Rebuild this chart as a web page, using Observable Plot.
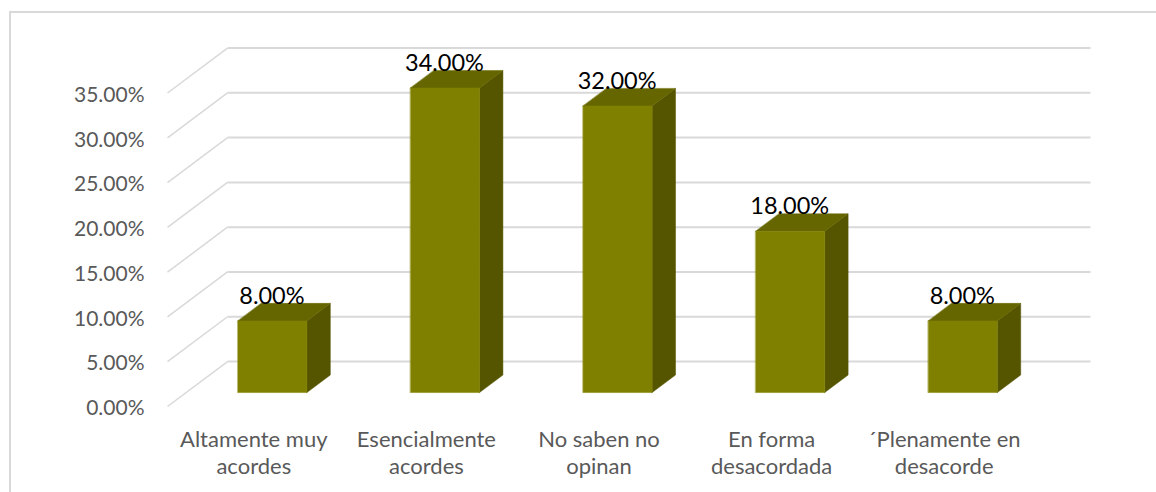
<!DOCTYPE html>
<html lang="es">
<head>
<meta charset="utf-8">
<script src="https://cdn.jsdelivr.net/npm/d3@7"></script>
<script src="https://cdn.jsdelivr.net/npm/@observablehq/plot@0.6"></script>
<style>
html,body{margin:0;padding:0;background:#fff;overflow:hidden}
svg{display:block}
</style>
</head>
<body>
<div id="chart"></div>
<script>
const categories = ["Altamente muy\nacordes", "Esencialmente\nacordes", "No saben no\nopinan", "En forma\ndesacordada", "´Plenamente en\ndesacorde"];
const values = [8, 34, 32, 18, 8];
const valueLabels = ["8.00%", "34.00%", "32.00%", "18.00%", "8.00%"];
const yTicks = [0, 5, 10, 15, 20, 25, 30, 35];
const yTickLabels = ["0.00%", "5.00%", "10.00%", "15.00%", "20.00%", "25.00%", "30.00%", "35.00%"];

const FONT = "Lato, sans-serif";
// oblique projection: depth 0..1 shifts a point along the chart's floor
const depthX = 0.3476, depthY = 5.02;
const front = 0.31, back = 0.70, halfW = 0.2;
const px = (i, d) => i + d * depthX;
const py = (v, d) => v + d * depthY;

const polys = [];
values.forEach((v, i) => {
  const L = i - halfW, R = i + halfW;
  const face = (kind, pts) => polys.push(...pts.map(([x, y, d]) => ({id: i + kind, kind, x: px(x, d), y: py(y, d)})));
  face("side", [[R, 0, front], [R, 0, back], [R, v, back], [R, v, front]]);
  face("top", [[L, v, front], [R, v, front], [R, v, back], [L, v, back]]);
  face("front", [[L, 0, front], [R, 0, front], [R, v, front], [L, v, front]]);
});
const faceColor = {front: "#808000", side: "#555500", top: "#666600"};
const faces = kind => polys.filter(p => p.kind === kind);
const xi = categories.map((_, i) => i);

const chart = Plot.plot({
  width: 1156, height: 492,
  marginLeft: 9.5, marginTop: 11.5, marginRight: 0, marginBottom: 0,
  style: {fontFamily: FONT, background: "#fff"},
  x: {type: "linear", domain: [-0.5, 4.5], range: [167, 1030], axis: null},
  y: {type: "linear", domain: [0, 35], range: [406, 92.5], axis: null},
  marks: [
    Plot.frame({anchor: "left", stroke: "#d9d9d9", strokeWidth: 2, strokeOpacity: 1}),
    Plot.frame({anchor: "top", stroke: "#d9d9d9", strokeWidth: 2, strokeOpacity: 1}),
    Plot.link(yTicks, {x1: () => -0.5, y1: d => d, x2: () => px(-0.5, 1), y2: d => py(d, 1), stroke: "#d9d9d9", strokeWidth: 1.5}),
    Plot.link(yTicks, {x1: () => px(-0.5, 1), y1: d => py(d, 1), x2: () => px(4.5, 1), y2: d => py(d, 1), stroke: "#d9d9d9", strokeWidth: 2}),
    ...["side", "top", "front"].map(k => Plot.line(faces(k), {x: "x", y: "y", z: "id", fill: faceColor[k], stroke: faceColor[k], strokeWidth: 0.5, curve: "linear-closed"})),
    Plot.text(yTicks, {x: () => -0.5, y: d => d, text: (d, i) => yTickLabels[i], textAnchor: "end", dx: -23, dy: 2, fontSize: 21, fill: "#595959"}),
    Plot.text(xi, {x: i => i, y: () => 0, text: i => categories[i], textAnchor: "middle", lineAnchor: "top", dy: 21.5, lineHeight: 1.23, fontSize: 22, fill: "#595959"}),
    Plot.text(xi, {x: i => px(i, front), y: i => py(values[i], back), text: i => valueLabels[i], textAnchor: "middle", lineAnchor: "bottom", dx: -0.5, dy: 0.5, fontSize: 23.5, fill: "#000"})
  ]
});
document.getElementById("chart").appendChild(chart);
</script>
</body>
</html>
